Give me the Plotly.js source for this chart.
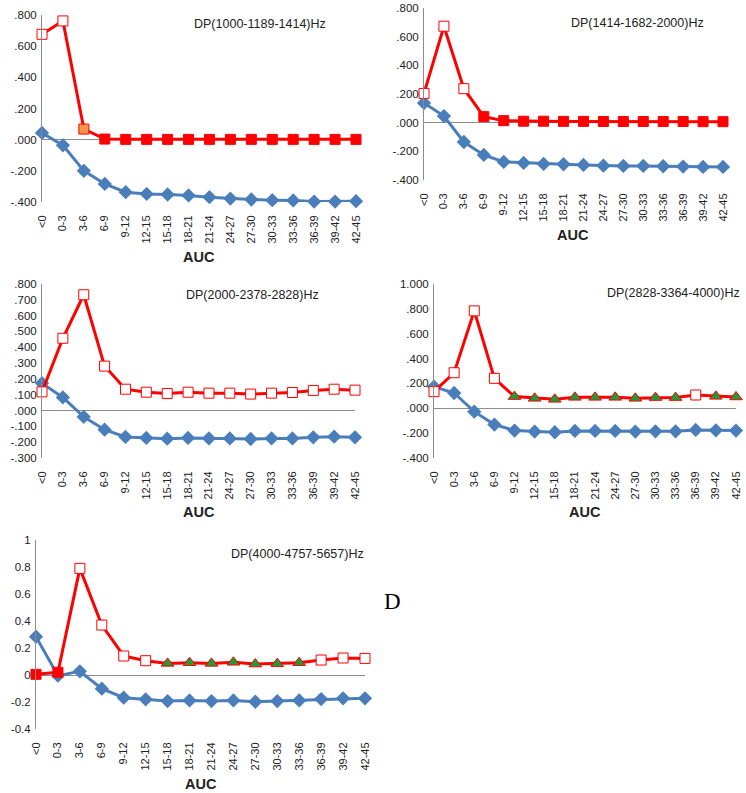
<!DOCTYPE html>
<html>
<head>
<meta charset="utf-8">
<script src="https://cdn.plot.ly/plotly-3.0.1.min.js"></script>
<style>html,body{margin:0;padding:0;background:#fff;}#chart{width:746px;height:793px;}</style>
</head>
<body>
<div id="chart"></div>
<script>
// ---------- data ----------
const categories = ['<0','0-3','3-6','6-9','9-12','12-15','15-18','18-21','21-24','24-27','27-30','30-33','33-36','36-39','39-42','42-45'];

const panelTitles = ['DP(1000-1189-1414)Hz','DP(1414-1682-2000)Hz','DP(2000-2378-2828)Hz','DP(2828-3364-4000)Hz','DP(4000-4757-5657)Hz'];
const xAxisTitle = 'AUC';

const p1Blue = [0.043,-0.036,-0.200,-0.284,-0.337,-0.348,-0.352,-0.358,-0.369,-0.378,-0.384,-0.388,-0.390,-0.397,-0.397,-0.395];
const p1Red  = [0.676,0.762,0.068,0.004,0.002,0.002,0.002,0.002,0.002,0.002,0.002,0.002,0.002,0.002,0.002,0.002];
const p1Kind = ['o','o','a','f','f','f','f','f','f','f','f','f','f','f','f','f'];

const p2Blue = [0.137,0.046,-0.135,-0.225,-0.274,-0.281,-0.288,-0.290,-0.295,-0.300,-0.302,-0.302,-0.304,-0.306,-0.309,-0.309];
const p2Red  = [0.204,0.673,0.237,0.042,0.014,0.010,0.010,0.009,0.009,0.008,0.008,0.008,0.008,0.008,0.007,0.007];
const p2Kind = ['o','o','o','f','f','f','f','f','f','f','f','f','f','f','f','f'];

const p3Blue = [0.173,0.083,-0.040,-0.121,-0.167,-0.173,-0.178,-0.173,-0.176,-0.176,-0.180,-0.176,-0.176,-0.169,-0.165,-0.169];
const p3Red  = [0.118,0.457,0.732,0.281,0.135,0.116,0.108,0.116,0.110,0.110,0.104,0.110,0.114,0.127,0.135,0.129];
const p3Kind = ['o','o','o','o','o','o','o','o','o','o','o','o','o','o','o','o'];

const p4Blue = [0.174,0.123,-0.027,-0.131,-0.179,-0.187,-0.193,-0.182,-0.182,-0.182,-0.187,-0.185,-0.185,-0.174,-0.177,-0.179];
const p4Red  = [0.134,0.286,0.784,0.241,0.094,0.080,0.072,0.088,0.088,0.088,0.080,0.086,0.086,0.107,0.096,0.091];
const p4Kind = ['o','o','o','o','t','t','t','t','t','t','t','t','t','o','t','t'];

const p5Blue = [0.284,-0.005,0.027,-0.101,-0.168,-0.180,-0.193,-0.188,-0.193,-0.188,-0.198,-0.193,-0.188,-0.178,-0.173,-0.173];
const p5Red  = [0.005,0.020,0.790,0.370,0.141,0.106,0.086,0.091,0.086,0.094,0.081,0.084,0.091,0.111,0.126,0.123];
const p5Kind = ['f','f','o','o','o','o','t','t','t','t','t','t','t','o','o','o'];

const yTicks1 = [-0.4,-0.2,0,0.2,0.4,0.6,0.8];
const yLabels1 = ['-.400','-.200','.000','.200','.400','.600','.800'];
const yTicks3 = [-0.3,-0.2,-0.1,0,0.1,0.2,0.3,0.4,0.5,0.6,0.7,0.8];
const yLabels3 = ['-.300','-.200','-.100','.000','.100','.200','.300','.400','.500','.600','.700','.800'];
const yTicks4 = [-0.4,-0.2,0,0.2,0.4,0.6,0.8,1.0];
const yLabels4 = ['-.400','-.200','.000','.200','.400','.600','.800','1.000'];
const yTicks5 = [-0.4,-0.2,0,0.2,0.4,0.6,0.8,1.0];
const yLabels5 = ['-0.4','-0.2','0','0.2','0.4','0.6','0.8','1'];

const panelLetter = 'D';

// ---------- layout geometry (pixels) ----------
const W = 746, H = 793;
const panels = [
  {blue:p1Blue, red:p1Red, kind:p1Kind, yt:yTicks1, yl:yLabels1, yr:[-0.4,0.8], x0:42, x1:356, top:15, bot:202, tx:260, ty:24, ax:199, ay:257},
  {blue:p2Blue, red:p2Red, kind:p2Kind, yt:yTicks1, yl:yLabels1, yr:[-0.4,0.8], x0:424, x1:723, top:8, bot:180, tx:637, ty:23, ax:573, ay:235},
  {blue:p3Blue, red:p3Red, kind:p3Kind, yt:yTicks3, yl:yLabels3, yr:[-0.3,0.8], x0:42, x1:355, top:284, bot:458, tx:252, ty:295, ax:199, ay:512},
  {blue:p4Blue, red:p4Red, kind:p4Kind, yt:yTicks4, yl:yLabels4, yr:[-0.4,1.0], x0:434, x1:736, top:284, bot:458, tx:673, ty:293, ax:585, ay:512},
  {blue:p5Blue, red:p5Red, kind:p5Kind, yt:yTicks5, yl:yLabels5, yr:[-0.4,1.0], x0:36, x1:365, top:540, bot:729, tx:297, ty:554, ax:201, ay:784}
];

const BLUE = '#4A7EBB', RED = '#FF0000', ORANGE = '#F79646', GREEN = '#1E9B3A';
const FONT = 'Liberation Sans, Arial, sans-serif';

function symbolOf(k){ return k==='t' ? 'triangle-up' : 'square'; }
function fillOf(k){ return k==='o' ? '#FFFFFF' : k==='a' ? ORANGE : k==='t' ? GREEN : RED; }
function sizeOf(k){ return k==='t' ? 11 : 10; }

const traces = [];
const layout = {
  width: W, height: H,
  margin: {l:0, r:0, t:0, b:0},
  paper_bgcolor: '#fff', plot_bgcolor: 'rgba(0,0,0,0)',
  showlegend: false,
  font: {family: FONT, color: '#222'},
  annotations: []
};

panels.forEach((p, i) => {
  const n = i + 1;
  const xa = n === 1 ? 'x' : 'x' + n;
  const ya = n === 1 ? 'y' : 'y' + n;
  const xk = n === 1 ? 'xaxis' : 'xaxis' + n;
  const yk = n === 1 ? 'yaxis' : 'yaxis' + n;

  traces.push({
    type: 'scatter', mode: 'lines+markers', x: categories, y: p.blue,
    xaxis: xa, yaxis: ya, cliponaxis: false,
    line: {color: BLUE, width: 3},
    marker: {symbol: 'diamond', size: 11, color: BLUE, opacity: 1}
  });
  traces.push({
    type: 'scatter', mode: 'lines+markers', x: categories, y: p.red,
    xaxis: xa, yaxis: ya, cliponaxis: false,
    line: {color: RED, width: 3},
    marker: {
      symbol: p.kind.map(symbolOf),
      size: p.kind.map(sizeOf),
      color: p.kind.map(fillOf),
      opacity: 1,
      line: {color: RED, width: 1}
    }
  });

  layout[xk] = {
    domain: [p.x0 / W, p.x1 / W],
    anchor: ya,
    type: 'category',
    range: [0, 15],
    showline: false, showgrid: false, zeroline: false,
    ticks: 'outside', ticklen: 8, tickcolor: 'rgba(0,0,0,0)',
    tickangle: -90,
    tickfont: {family: FONT, size: 11, color: '#222'},
    fixedrange: true
  };
  layout[yk] = {
    domain: [1 - p.bot / H, 1 - p.top / H],
    anchor: xa,
    range: p.yr,
    tickmode: 'array', tickvals: p.yt, ticktext: p.yl,
    showline: true, linecolor: '#8C8C8C', linewidth: 1,
    showgrid: false,
    zeroline: true, zerolinecolor: '#8C8C8C', zerolinewidth: 1,
    ticks: 'outside', ticklen: 2, tickcolor: 'rgba(0,0,0,0)',
    tickfont: {family: FONT, size: 11.5, color: '#222'},
    fixedrange: true
  };

  layout.annotations.push({
    text: panelTitles[i], xref: 'paper', yref: 'paper',
    x: p.tx / W, y: 1 - p.ty / H, xanchor: 'center', yanchor: 'middle',
    showarrow: false, font: {family: FONT, size: 12.5, color: '#222'}
  });
  layout.annotations.push({
    text: '<b>' + xAxisTitle + '</b>', xref: 'paper', yref: 'paper',
    x: p.ax / W, y: 1 - p.ay / H, xanchor: 'center', yanchor: 'middle',
    showarrow: false, font: {family: FONT, size: 14.5, color: '#222'}
  });
});

layout.annotations.push({
  text: panelLetter, xref: 'paper', yref: 'paper',
  x: 392 / W, y: 1 - 601 / H, xanchor: 'center', yanchor: 'middle',
  showarrow: false, font: {family: 'Liberation Serif, Times New Roman, serif', size: 23, color: '#000'}
});

Plotly.newPlot('chart', traces, layout, {displayModeBar: false, staticPlot: true});
</script>
</body>
</html>
